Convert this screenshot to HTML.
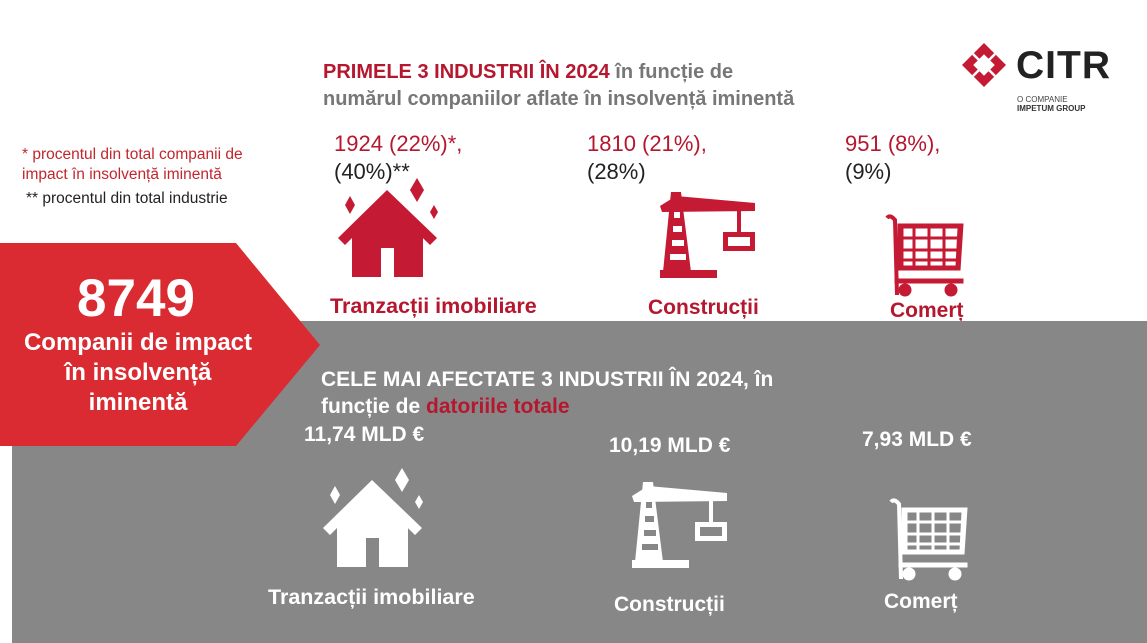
<!DOCTYPE html>
<html><head><meta charset="utf-8"><style>
body{margin:0;width:1147px;height:643px;position:relative;overflow:hidden;background:#fff;font-family:"Liberation Sans",sans-serif}
.a{position:absolute;white-space:nowrap}
.r{color:#b5172f}
.b{font-weight:bold}
</style></head><body>
<svg width="1147" height="643" style="position:absolute;left:0;top:0">
<defs>
<g id="house">
<path d="M338 238 L387 190 L437 238 L430 245 L387 203 L345 245Z"/>
<path d="M352 236 L387 202 L423 236 L423 277 L394 277 L394 248 L381 248 L381 277 L352 277Z"/>
<path d="M350 196 L355 205 L350 214 L345 205Z"/>
<path d="M417 178 L424 190 L417 202 L410 190Z"/>
<path d="M434 205 L438 212 L434 219 L430 212Z"/>
</g>
<g id="crane">
<path d="M671 192 L681 192 L691 272 L663 272 Z M674 212 V218 H680 V212Z M673 226 V232 H682 V226Z M672 240 V246 H684 V240Z M670 254 V260 H686 V254Z" fill-rule="evenodd"/>
<rect x="660" y="270" width="57" height="8"/>
<path d="M660 206 L676 196 L755 203 L755 211 L662 212Z"/>
<rect x="737" y="208" width="4" height="26"/>
<path d="M723 232 H755 V251 H723Z M728 237 V246 H750 V237Z" fill-rule="evenodd"/>
</g>
<g id="cart">
<path d="M887 218 Q890 214 895 220 L897 295" fill="none" stroke-width="4"/>
<path d="M898 224 H963 L960 270 H898Z M903 228 V266 H956 L958 228Z" fill-rule="evenodd"/>
<path d="M898 238 H961 M898 250 H960 M898 260 H959 M914 226 V268 M929 226 V268 M944 226 V268" stroke-width="3" fill="none"/>
<rect x="895" y="279" width="68" height="4"/>
<circle cx="905" cy="290" r="6"/><circle cx="951" cy="290" r="6"/>
</g>
</defs>
<rect x="12" y="321" width="1135" height="322" fill="#878787"/>
<path d="M0 243 H236 L320 345 L236 446 H0Z" fill="#d92b31"/>
<g fill="#c41a33" stroke="#c41a33"><use href="#house" stroke="none"/><use href="#crane" stroke="none"/><use href="#cart"/></g>
<g fill="#fff" stroke="#fff">
<use href="#house" transform="translate(-15,290)" stroke="none"/>
<use href="#crane" transform="translate(-28,290)" stroke="none"/>
<use href="#cart" transform="translate(4,284)"/>
</g>
<path d="M984 43 L1006 65 L984 87 L962 65Z" fill="#c41a33"/>
<path d="M984 56 L993 65 L984 74 L975 65Z M973 54 L984 65 M995 54 L984 65 M984 65 L973 76 M984 65 L995 76" fill="none" stroke="#fff" stroke-width="2.5"/>
<path d="M984 56 L993 65 L984 74 L975 65Z" fill="#fff"/>
</svg>
<div class="a b" style="left:1016px;top:44px;font-size:39px;color:#222;letter-spacing:1px">CITR</div>
<div class="a" style="left:1017px;top:95px;font-size:8px;color:#444">O COMPANIE</div>
<div class="a b" style="left:1017px;top:104px;font-size:8px;color:#333">IMPETUM GROUP</div>
<div class="a b" style="left:323px;top:59px;font-size:20px;color:#777;line-height:27px"><span class="r">PRIMELE 3 INDUSTRII ÎN 2024</span> în funcție de<br>numărul companiilor aflate în insolvență iminentă</div>
<div class="a" style="left:22px;top:145px;font-size:15.5px;line-height:20px;color:#c0272d">* procentul din total companii de<br>impact în insolvență iminentă</div>
<div class="a" style="left:26px;top:190px;font-size:15.5px;color:#222">** procentul din total industrie</div>
<div class="a" style="left:334px;top:130px;font-size:22px;line-height:28px;color:#222"><span class="r">1924 (22%)*,</span><br>(40%)**</div>
<div class="a" style="left:587px;top:130px;font-size:22px;line-height:28px;color:#222"><span class="r">1810 (21%),</span><br>(28%)</div>
<div class="a" style="left:845px;top:130px;font-size:22px;line-height:28px;color:#222"><span class="r">951 (8%),</span><br>(9%)</div>
<div class="a b r" style="left:330px;top:294px;font-size:21.5px">Tranzacții imobiliare</div>
<div class="a b r" style="left:648px;top:296px;font-size:21px">Construcții</div>
<div class="a b r" style="left:890px;top:299px;font-size:21px;height:22px;overflow:hidden">Comerț</div>
<div class="a b" style="left:0;width:272px;text-align:center;top:268px;font-size:53px;color:#fff">8749</div>
<div class="a b" style="left:0;width:276px;text-align:center;top:328px;font-size:24px;line-height:30px;color:#fff;white-space:normal">Companii de impact<br>în insolvență<br>iminentă</div>
<div class="a b" style="left:321px;top:366px;font-size:21px;line-height:27px;color:#fff">CELE MAI AFECTATE 3 INDUSTRII ÎN 2024, în<br>funcție de <span class="r">datoriile totale</span></div>
<div class="a b" style="left:304px;top:423px;font-size:21px;color:#fff">11,74 MLD €</div>
<div class="a b" style="left:609px;top:434px;font-size:21px;color:#fff">10,19 MLD €</div>
<div class="a b" style="left:862px;top:428px;font-size:21px;color:#fff">7,93 MLD €</div>
<div class="a b" style="left:268px;top:585px;font-size:21.5px;color:#fff">Tranzacții imobiliare</div>
<div class="a b" style="left:614px;top:593px;font-size:21px;color:#fff">Construcții</div>
<div class="a b" style="left:884px;top:590px;font-size:21px;color:#fff">Comerț</div>
</body></html>
